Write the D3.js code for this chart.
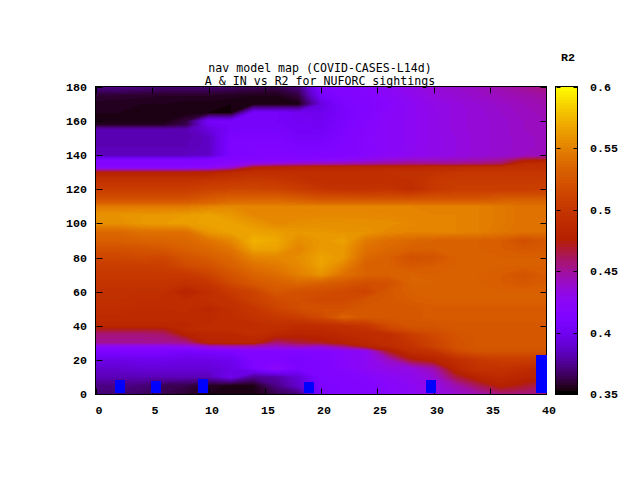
<!DOCTYPE html>
<html><head><meta charset="utf-8">
<script src="https://cdn.jsdelivr.net/npm/d3@7/dist/d3.min.js"></script>
<style>html,body{margin:0;background:#fff}svg{display:block}
text{font-family:"DejaVu Sans Mono",monospace;font-size:11.6px;fill:#000}
.b{font-family:"Liberation Mono",monospace;font-size:11.67px;font-weight:bold}</style></head><body><svg id="c" width="640" height="480"></svg>
<script>
const titleLines=["nav model map (COVID-CASES-L14d)","A & IN vs R2 for NUFORC sightings"];
const colorbarTitle="R2";
const xTicks=[0,5,10,15,20,25,30,35,40];
const yTicks=[0,20,40,60,80,100,120,140,160,180];
const cbTicks=[0.35,0.4,0.45,0.5,0.55,0.6];
const cbLabels=["0.35","0.4","0.45","0.5","0.55","0.6"];
const gridA=[0,2,4,6,8,10,12,14,16,18,20,22,24,26,28,30,32,34,36,38,40];
const gridIN=[180,175,170,165,160,158,155,150,145,140,137,135,133,131,130,125,120,115,112,110,105,100,95,90,85,80,75,70,65,60,55,50,45,40,38,35,30,28,25,20,15,10,5,0];
const r2Milli=[
[372,372,370,368,368,368,366,364,362,370,412,414,418,424,430,435,438,441,445,450,455],
[358,358,357,356,356,356,355,354,354,360,405,412,416,422,427,433,436,439,442,445,448],
[355,354,354,354,353,353,352,352,352,353,392,410,414,419,425,430,433,436,439,442,445],
[354,354,353,353,352,352,351,405,405,400,398,407,415,421,425,429,433,435,438,441,443],
[353,353,353,353,360,404,405,405,404,401,400,408,417,422,425,429,433,435,437,440,442],
[356,356,356,356,362,400,405,405,405,402,401,409,418,422,425,429,433,435,437,440,442],
[381,381,381,381,381,392,405,406,406,403,402,410,418,422,425,429,433,435,437,440,442],
[381,381,381,381,381,385,410,410,410,405,405,412,419,422,425,429,432,435,437,439,441],
[382,382,382,382,382,385,411,412,412,410,410,413,418,422,425,429,432,435,437,439,441],
[384,384,384,384,384,386,410,412,413,412,413,415,419,423,426,429,432,435,437,440,443],
[413,413,413,413,413,415,416,418,418,420,422,425,430,436,440,441,442,445,450,472,476],
[414,414,414,414,414,416,422,432,438,442,445,447,449,452,454,454,454,456,460,487,490],
[420,420,420,420,420,422,435,470,478,480,482,483,485,485,485,486,488,490,490,492,492],
[455,455,455,455,455,458,470,487,488,488,488,488,488,490,490,490,493,495,495,495,495],
[478,478,478,478,478,478,486,490,490,490,490,490,490,492,492,495,498,498,498,498,498],
[495,495,495,495,495,498,500,502,500,495,490,490,490,490,492,500,503,503,503,503,503],
[505,505,505,505,505,510,512,512,510,505,498,495,495,497,490,500,505,505,505,505,507],
[518,518,518,518,518,525,530,530,530,525,520,520,518,518,518,520,520,520,525,525,525],
[530,530,530,530,530,535,540,540,540,538,535,535,535,535,535,535,535,535,535,535,535],
[545,545,545,545,545,550,553,550,550,550,550,550,550,550,550,548,548,548,545,540,540],
[558,558,560,560,562,565,560,552,552,552,553,553,553,552,550,550,550,548,545,540,540],
[555,555,560,562,563,565,565,560,553,555,556,556,555,555,553,550,550,548,545,540,540],
[535,535,540,540,540,560,565,565,563,560,560,558,558,553,550,550,550,548,543,540,540],
[530,530,532,533,535,542,552,572,568,555,560,565,545,538,535,532,530,530,528,518,525],
[520,520,522,525,530,535,542,565,565,550,562,560,540,535,530,530,530,530,528,525,527],
[512,512,515,512,522,528,535,550,552,555,565,560,535,530,520,522,530,530,530,530,530],
[505,505,505,507,515,520,530,540,545,552,565,550,530,530,525,528,530,530,530,530,530],
[500,500,500,500,500,510,522,532,538,548,558,540,532,530,532,530,530,530,528,522,528],
[497,497,497,497,494,498,515,525,530,535,530,525,518,520,532,532,530,530,528,525,528],
[492,492,492,492,480,490,502,510,525,520,518,515,510,525,530,530,530,530,530,530,530],
[492,492,490,490,488,492,495,508,515,518,515,515,522,525,528,530,530,530,530,530,530],
[490,490,488,488,489,484,492,498,510,518,520,520,525,525,525,527,527,527,527,527,527],
[487,487,487,487,487,487,490,496,500,505,515,532,525,525,525,527,527,527,527,527,527],
[485,485,485,485,485,488,488,488,492,488,490,492,498,515,522,522,525,525,525,525,525],
[470,470,470,470,487,490,490,490,490,486,487,490,493,510,518,520,525,525,525,525,525],
[455,455,455,458,478,483,485,490,485,480,482,486,488,490,505,515,522,525,525,525,525],
[450,450,450,450,452,480,482,482,455,465,470,478,485,490,497,510,520,525,525,525,525],
[425,425,425,425,430,440,445,445,440,445,440,455,478,487,495,510,520,525,525,525,525],
[410,410,410,410,405,408,410,415,415,412,415,420,425,470,490,495,515,522,522,522,522],
[395,395,397,397,395,395,398,412,412,408,412,420,425,440,470,480,490,500,505,505,505],
[388,388,390,390,390,390,395,410,425,410,412,418,425,430,432,445,485,495,495,490,485],
[382,382,382,382,382,383,398,375,378,390,412,415,418,423,428,435,465,482,487,482,478],
[372,372,370,364,362,356,353,354,372,388,410,413,416,420,425,430,445,462,478,470,460],
[368,368,366,362,358,354,352,353,362,370,408,412,415,420,425,430,437,445,455,455,455]
];
const barA=[2.13,5.33,9.5,18.9,29.8,39.6];
const barIN=[8.2,7.6,8.8,7,8.2,22.8];
const barWidthA=0.89;

const L=96,R=546,T=87,B=394;
const x=d3.scaleLinear().domain([0,40]).range([L,R]);
const y=d3.scaleLinear().domain([0,180]).range([B,T]);
const cb=d3.scaleLinear().domain([0.35,0.6]).range([B,T]);
const palette=v=>{const t=Math.max(0,Math.min(1,(v-0.35)/0.25));
  return d3.rgb(255*Math.sqrt(t),255*t*t*t,255*Math.max(0,Math.sin(2*Math.PI*t))).formatRgb();};
const svg=d3.select("#c");
svg.append("defs").append("clipPath").attr("id","pc").append("rect").attr("x",L).attr("y",T).attr("width",R-L).attr("height",B-T);
const plot=svg.append("g").attr("clip-path","url(#pc)");
const nx=gridA.length, ny=gridIN.length;
const flat=r2Milli.flat().map(v=>v/1000);
const thr=d3.range(0.35,0.6,0.002);
const contours=d3.contours().size([nx,ny]).thresholds(thr)(flat);
const colA=d3.scaleLinear().domain(d3.range(nx)).range(gridA);
const rowIN=d3.scaleLinear().domain(d3.range(ny)).range(gridIN);
const path=d3.geoPath(d3.geoTransform({point(px,py){
  this.stream.point(x(colA(px-0.5)),y(rowIN(py-0.5)));}}));
plot.append("rect").attr("x",L).attr("y",T).attr("width",R-L).attr("height",B-T).attr("fill",palette(0.35));
plot.selectAll("path.h").data(contours).join("path").attr("class","h")
  .attr("d",path).attr("fill",d=>palette(d.value+0.001)).attr("shape-rendering","crispEdges");
const ln=(a,b,c,d)=>svg.append("line").attr("x1",a+.5).attr("y1",b+.5).attr("x2",c+.5).attr("y2",d+.5).attr("stroke","#000").attr("stroke-width",1);
svg.append("rect").attr("x",L-.5).attr("y",T-.5).attr("width",R-L+1).attr("height",B-T+1).attr("fill","none").attr("stroke","#000");
xTicks.forEach(t=>{const p=Math.round(x(t));ln(p,B-6,p,B);ln(p,T,p,T+6);
  svg.append("text").attr("class","b").attr("x",p+3).attr("y",414).attr("text-anchor","middle").text(t);});
yTicks.forEach(t=>{const p=Math.round(y(t));ln(L,p,L+6,p);ln(R-6,p,R,p);
  svg.append("text").attr("class","b").attr("x",87).attr("y",p+4).attr("text-anchor","end").text(t);});
svg.selectAll("rect.bar").data(barA).join("rect").attr("class","bar")
  .attr("x",d=>x(d-barWidthA/2)).attr("width",x(barWidthA)-x(0))
  .attr("y",(d,i)=>y(barIN[i])).attr("height",(d,i)=>y(0.5)-y(barIN[i])).attr("fill","#0000ff").attr("shape-rendering","crispEdges");
const cbSteps=d3.range(0.35,0.6,0.0025);
svg.selectAll("rect.cb").data(cbSteps).join("rect").attr("class","cb").attr("x",556).attr("width",21.5)
  .attr("y",d=>cb(d+0.0025)).attr("height",d=>cb(d)-cb(d+0.0025)+.5).attr("fill",d=>palette(d)).attr("shape-rendering","crispEdges");
svg.append("rect").attr("x",555.5).attr("y",T-.5).attr("width",22).attr("height",B-T+1).attr("fill","none").attr("stroke","#000");
cbTicks.forEach((t,i)=>{const p=Math.round(cb(t));ln(556,p,560,p);ln(573,p,577,p);
  svg.append("text").attr("class","b").attr("x",590).attr("y",p+4).text(cbLabels[i]);});
svg.append("text").attr("class","b").attr("x",568).attr("y",61).attr("text-anchor","middle").text(colorbarTitle);
titleLines.forEach((s,i)=>svg.append("text").attr("x",320).attr("y",72+i*13).attr("text-anchor","middle").text(s));
</script></body></html>
